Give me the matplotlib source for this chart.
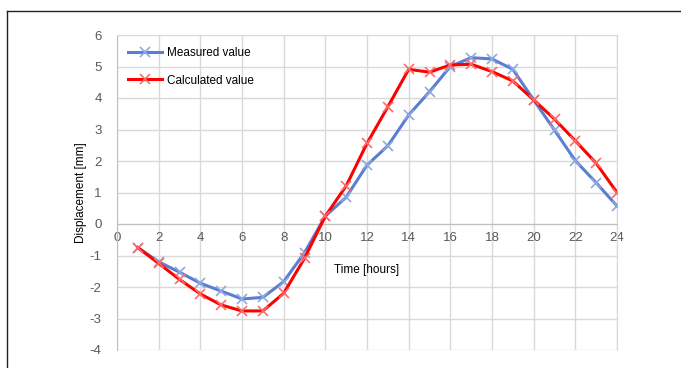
import numpy as np
import matplotlib.pyplot as plt
from matplotlib.lines import Line2D

plt.rcParams['font.family'] = ['Liberation Sans', 'DejaVu Sans']
plt.rcParams['axes.unicode_minus'] = False

# data
hours = [1, 2, 3, 4, 5, 6, 7, 8, 9, 10, 11, 12,
         13, 14, 15, 16, 17, 18, 19, 20, 21, 22, 23, 24]
measured = [-0.75, -1.2, -1.53, -1.88, -2.13, -2.38, -2.33, -1.83, -0.91, 0.25, 0.85, 1.87,
            2.48, 3.46, 4.2, 5.0, 5.28, 5.24, 4.91, 3.94, 2.98, 2.01, 1.31, 0.57]
calculated = [-0.75, -1.25, -1.76, -2.22, -2.57, -2.76, -2.76, -2.2, -1.09, 0.25, 1.21, 2.56,
              3.72, 4.91, 4.82, 5.05, 5.07, 4.84, 4.54, 3.94, 3.33, 2.64, 1.93, 1.0]
xticks = list(range(0, 25, 2))
yticks = list(range(-4, 7))

fig = plt.figure(figsize=(6.81, 3.68), dpi=100)
ax = fig.add_axes([117/681, 1-350/368, 500/681, 315/368])

grid_c = '#d9d9d9'
ax.plot(hours, measured, color='#5b7fd0', lw=2.2, marker='x', ms=7,
        mec='#8fa8e0', mew=1.2, label='Measured value', zorder=3)
ax.plot(hours, calculated, color='#ff0000', lw=2.2, marker='x', ms=7,
        mec='#ff6a6a', mew=1.2, label='Calculated value', zorder=4)

ax.set_xlim(0, 24)
ax.set_ylim(-4, 6)
ax.set_xticks(xticks)
ax.set_yticks(yticks)
ax.grid(True, color=grid_c, lw=1)
ax.set_axisbelow(True)

ax.spines['bottom'].set_position(('data', 0))
for s in ax.spines.values():
    s.set_color(grid_c)
ax.spines['bottom'].set_color('#bfbfbf')
ax.spines['left'].set_color('#bfbfbf')
ax.tick_params(length=0, labelsize=9.5, labelcolor='#595959')
ax.tick_params(axis='x', pad=6)
ax.tick_params(axis='y', pad=11)

ax.set_xlabel('Time [hours]', fontsize=8.5, labelpad=14)
ax.set_ylabel('Displacement [mm]', fontsize=8.5, labelpad=2)

ax.legend(loc='upper left', bbox_to_anchor=(0.0, 0.995), frameon=False,
          fontsize=8.5, labelspacing=1.3, handlelength=2.9, handletextpad=0.4)

# outer frame lines
fig.add_artist(Line2D([7/681, 1], [1-11/368, 1-11/368], color='#222222', lw=1))
fig.add_artist(Line2D([7/681, 7/681], [0, 1-11/368], color='#222222', lw=1))

fig.savefig('out.png', dpi=100)
